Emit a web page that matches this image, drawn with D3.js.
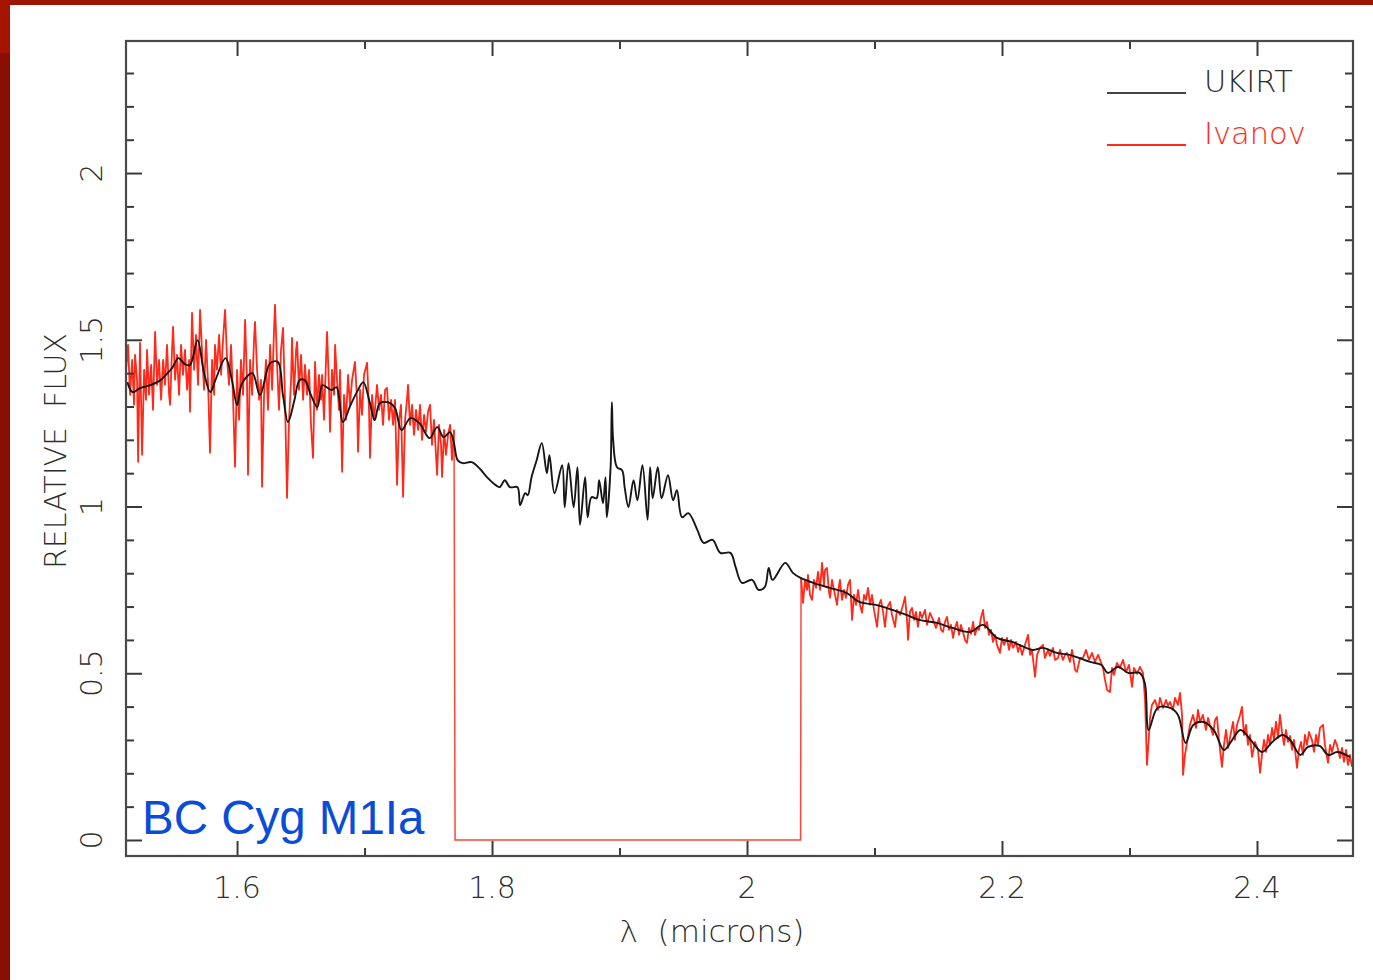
<!DOCTYPE html>
<html>
<head>
<meta charset="utf-8">
<script src="https://cdn.jsdelivr.net/npm/d3@7"></script>
<style>
  body { margin: 0; background: #fff; }
  svg { display: block; }
  .axis-text { font-family: "DejaVu Sans", sans-serif; }
</style>
</head>
<body>
<svg id="chart" width="1373" height="980"></svg>
<script>
// UKIRT spectrum (black), wavelength in microns / relative flux
const ukirtWave = [1.514,1.518,1.524,1.532,1.540,1.544,1.549,1.554,1.559,1.563,
  1.569,1.574,1.579,1.583,1.591,1.596,1.600,1.604,1.612,1.618,
  1.626,1.632,1.636,1.640,1.645,1.649,1.653,1.658,1.663,1.667,
  1.674,1.678,1.683,1.689,1.694,1.699,1.704,1.708,1.712,1.720,
  1.724,1.729,1.736,1.743,1.751,1.757,1.762,1.767,1.770,1.773,
  1.777,1.784,1.790,1.796,1.801,1.806,1.810,1.814,1.820,1.822,
  1.826,1.828,1.831,1.835,1.839,1.843,1.845,1.849,1.855,1.857,
  1.860,1.864,1.867,1.869,1.873,1.875,1.878,1.882,1.884,1.887,
  1.889,1.890,1.893,1.894,1.895,1.898,1.902,1.904,1.907,1.911,
  1.914,1.918,1.922,1.924,1.926,1.930,1.933,1.938,1.942,1.945,
  1.949,1.954,1.961,1.966,1.973,1.979,1.987,1.991,1.996,2.004,
  2.009,2.014,2.017,2.020,2.030,2.036,2.042,2.052,2.065,2.078,
  2.088,2.101,2.114,2.125,2.135,2.149,2.161,2.175,2.185,2.196,
  2.208,2.224,2.232,2.243,2.253,2.269,2.278,2.283,2.291,2.299,
  2.308,2.312,2.315,2.322,2.332,2.338,2.344,2.350,2.358,2.366,
  2.374,2.379,2.387,2.395,2.404,2.412,2.420,2.426,2.434,2.440,
  2.449,2.456,2.463,2.473];
const ukirtFlux = [1.373,1.343,1.355,1.364,1.379,1.394,1.415,1.445,1.427,1.424,
  1.499,1.403,1.343,1.379,1.445,1.379,1.304,1.370,1.400,1.334,
  1.430,1.433,1.334,1.253,1.319,1.379,1.379,1.334,1.298,1.364,
  1.349,1.358,1.253,1.304,1.343,1.373,1.313,1.259,1.310,1.310,
  1.295,1.229,1.265,1.250,1.205,1.238,1.208,1.223,1.193,1.139,
  1.130,1.133,1.115,1.088,1.070,1.058,1.079,1.058,1.058,1.004,
  1.040,1.034,1.088,1.139,1.190,1.100,1.154,1.040,1.124,0.998,
  1.130,0.998,1.118,0.945,1.088,0.968,1.028,1.025,1.079,1.010,
  1.088,0.968,1.118,1.313,1.199,1.118,1.109,1.058,0.998,1.079,
  1.019,1.124,0.960,1.118,1.025,1.118,1.025,1.094,1.019,1.049,
  0.968,0.980,0.930,0.891,0.900,0.861,0.861,0.819,0.771,0.780,
  0.750,0.759,0.816,0.780,0.831,0.801,0.786,0.771,0.756,0.741,
  0.714,0.705,0.690,0.675,0.660,0.651,0.636,0.624,0.645,0.606,
  0.594,0.570,0.576,0.561,0.555,0.534,0.525,0.501,0.519,0.501,
  0.501,0.471,0.330,0.396,0.396,0.375,0.291,0.345,0.354,0.330,
  0.270,0.291,0.330,0.300,0.264,0.294,0.315,0.300,0.255,0.279,
  0.282,0.255,0.264,0.249];

// Ivanov spectrum (red): H band part
const ivanovHWave = [1.5129,1.5145,1.5161,1.5177,1.5192,1.5200,1.5216,1.5224,1.5239,1.5255,
  1.5271,1.5286,1.5294,1.5310,1.5326,1.5341,1.5357,1.5373,1.5388,1.5404,
  1.5420,1.5435,1.5451,1.5467,1.5475,1.5490,1.5498,1.5514,1.5529,1.5545,
  1.5561,1.5576,1.5592,1.5608,1.5624,1.5631,1.5647,1.5663,1.5678,1.5694,
  1.5710,1.5725,1.5741,1.5757,1.5773,1.5788,1.5804,1.5820,1.5827,1.5843,
  1.5859,1.5875,1.5890,1.5906,1.5922,1.5937,1.5953,1.5969,1.5984,1.6000,
  1.6016,1.6031,1.6047,1.6063,1.6078,1.6086,1.6102,1.6118,1.6133,1.6141,
  1.6157,1.6173,1.6188,1.6196,1.6212,1.6227,1.6243,1.6259,1.6275,1.6290,
  1.6298,1.6314,1.6329,1.6345,1.6361,1.6376,1.6392,1.6408,1.6424,1.6431,
  1.6447,1.6463,1.6471,1.6486,1.6502,1.6518,1.6533,1.6549,1.6565,1.6580,
  1.6596,1.6612,1.6627,1.6643,1.6659,1.6667,1.6682,1.6698,1.6706,1.6722,
  1.6729,1.6745,1.6761,1.6769,1.6784,1.6800,1.6808,1.6824,1.6839,1.6855,
  1.6871,1.6886,1.6902,1.6925,1.6941,1.6949,1.6965,1.6980,1.6996,1.7020,
  1.7035,1.7043,1.7059,1.7075,1.7098,1.7114,1.7129,1.7145,1.7161,1.7176,
  1.7192,1.7208,1.7224,1.7239,1.7255,1.7271,1.7286,1.7302,1.7318,1.7333,
  1.7341,1.7357,1.7373,1.7388,1.7404,1.7420,1.7435,1.7451,1.7467,1.7482,
  1.7498,1.7514,1.7529,1.7545,1.7569,1.7584,1.7600,1.7608,1.7624,1.7639,
  1.7655,1.7671,1.7686,1.7702];
const ivanovHFlux = [1.404,1.485,1.335,1.440,1.305,1.455,1.380,1.134,1.491,1.155,
  1.410,1.320,1.470,1.335,1.425,1.290,1.524,1.365,1.440,1.320,
  1.440,1.365,1.485,1.335,1.305,1.470,1.539,1.380,1.455,1.335,
  1.485,1.395,1.470,1.350,1.440,1.284,1.581,1.410,1.515,1.365,
  1.590,1.470,1.350,1.500,1.365,1.161,1.440,1.335,1.485,1.410,
  1.515,1.395,1.500,1.590,1.440,1.365,1.485,1.320,1.119,1.410,
  1.260,1.440,1.335,1.560,1.380,1.095,1.440,1.335,1.500,1.554,
  1.410,1.320,1.380,1.059,1.335,1.440,1.290,1.485,1.350,1.530,
  1.605,1.425,1.290,1.470,1.536,1.320,1.026,1.260,1.380,1.506,
  1.335,1.470,1.494,1.350,1.455,1.320,1.425,1.335,1.410,1.245,
  1.146,1.434,1.290,1.395,1.320,1.395,1.260,1.440,1.524,1.350,
  1.224,1.410,1.335,1.485,1.380,1.290,1.410,1.104,1.335,1.260,
  1.395,1.305,1.380,1.434,1.320,1.164,1.350,1.275,1.395,1.431,
  1.290,1.146,1.335,1.260,1.365,1.290,1.335,1.245,1.350,1.356,
  1.260,1.320,1.245,1.320,1.065,1.260,1.305,1.029,1.260,1.320,
  1.365,1.245,1.305,1.215,1.290,1.230,1.305,1.200,1.275,1.224,
  1.284,1.305,1.185,1.260,1.095,1.245,1.185,1.089,1.230,1.155,
  1.215,1.245,1.140,1.230];

// Ivanov: no data between the bands (plotted as zero flux)
const ivanovGapWave = [1.7710, 2.0420];
const ivanovGapFlux = [0, 0];

// Ivanov: K band part
const ivanovKWave = [2.0424,2.0439,2.0455,2.0471,2.0478,2.0494,2.0510,2.0525,2.0541,2.0557,
  2.0573,2.0588,2.0604,2.0612,2.0627,2.0643,2.0651,2.0667,2.0682,2.0706,
  2.0722,2.0729,2.0745,2.0761,2.0776,2.0792,2.0808,2.0824,2.0839,2.0855,
  2.0871,2.0886,2.0902,2.0918,2.0933,2.0949,2.0965,2.0980,2.0996,2.1020,
  2.1035,2.1051,2.1067,2.1082,2.1098,2.1122,2.1137,2.1161,2.1176,2.1200,
  2.1224,2.1239,2.1255,2.1263,2.1278,2.1294,2.1310,2.1325,2.1341,2.1357,
  2.1373,2.1396,2.1412,2.1435,2.1459,2.1482,2.1506,2.1522,2.1537,2.1553,
  2.1569,2.1584,2.1600,2.1616,2.1631,2.1647,2.1663,2.1678,2.1694,2.1710,
  2.1725,2.1741,2.1757,2.1773,2.1788,2.1804,2.1820,2.1835,2.1851,2.1867,
  2.1882,2.1898,2.1914,2.1929,2.1945,2.1961,2.1984,2.2000,2.2016,2.2039,
  2.2055,2.2071,2.2086,2.2110,2.2126,2.2141,2.2157,2.2180,2.2204,2.2220,
  2.2235,2.2259,2.2275,2.2298,2.2322,2.2337,2.2361,2.2376,2.2400,2.2416,
  2.2439,2.2455,2.2478,2.2494,2.2510,2.2533,2.2549,2.2573,2.2588,2.2612,
  2.2635,2.2659,2.2682,2.2706,2.2729,2.2753,2.2769,2.2792,2.2808,2.2824,
  2.2847,2.2863,2.2878,2.2902,2.2925,2.2949,2.2973,2.2996,2.3020,2.3035,
  2.3059,2.3082,2.3106,2.3122,2.3137,2.3153,2.3161,2.3176,2.3200,2.3224,
  2.3239,2.3263,2.3286,2.3302,2.3318,2.3341,2.3357,2.3380,2.3396,2.3412,
  2.3420,2.3435,2.3451,2.3474,2.3498,2.3522,2.3537,2.3553,2.3576,2.3600,
  2.3616,2.3631,2.3655,2.3671,2.3686,2.3702,2.3725,2.3741,2.3757,2.3773,
  2.3788,2.3812,2.3827,2.3843,2.3867,2.3882,2.3898,2.3914,2.3929,2.3945,
  2.3961,2.3984,2.4008,2.4024,2.4039,2.4055,2.4071,2.4086,2.4102,2.4118,
  2.4133,2.4149,2.4165,2.4180,2.4196,2.4212,2.4227,2.4243,2.4259,2.4275,
  2.4290,2.4314,2.4329,2.4345,2.4361,2.4376,2.4392,2.4408,2.4431,2.4447,
  2.4463,2.4478,2.4494,2.4518,2.4533,2.4557,2.4573,2.4588,2.4612,2.4627,
  2.4651,2.4667,2.4682,2.4698,2.4714,2.4729,2.4745];
const ivanovKFlux = [0.786,0.711,0.780,0.750,0.795,0.735,0.720,0.780,0.756,0.804,
  0.750,0.831,0.765,0.810,0.816,0.744,0.726,0.780,0.750,0.705,
  0.765,0.780,0.720,0.750,0.726,0.765,0.780,0.660,0.735,0.705,
  0.750,0.705,0.681,0.735,0.720,0.756,0.705,0.735,0.690,0.639,
  0.705,0.720,0.684,0.639,0.696,0.714,0.675,0.639,0.690,0.675,
  0.705,0.729,0.660,0.600,0.684,0.696,0.660,0.684,0.639,0.684,
  0.666,0.690,0.645,0.681,0.660,0.636,0.666,0.630,0.624,0.654,
  0.669,0.630,0.645,0.606,0.636,0.654,0.615,0.645,0.624,0.600,
  0.591,0.636,0.618,0.654,0.615,0.636,0.630,0.666,0.690,0.636,
  0.654,0.615,0.630,0.594,0.615,0.585,0.561,0.606,0.585,0.606,
  0.570,0.600,0.576,0.594,0.564,0.585,0.555,0.585,0.615,0.555,
  0.570,0.489,0.555,0.576,0.585,0.546,0.570,0.552,0.576,0.540,
  0.546,0.570,0.540,0.555,0.561,0.534,0.570,0.510,0.504,0.546,
  0.546,0.570,0.540,0.561,0.534,0.555,0.540,0.516,0.480,0.450,
  0.444,0.516,0.495,0.531,0.516,0.540,0.504,0.525,0.459,0.516,
  0.498,0.519,0.501,0.420,0.225,0.315,0.366,0.405,0.420,0.390,
  0.426,0.396,0.420,0.402,0.414,0.390,0.426,0.405,0.441,0.375,
  0.195,0.255,0.291,0.345,0.375,0.336,0.390,0.354,0.375,0.330,
  0.366,0.345,0.315,0.360,0.369,0.300,0.219,0.285,0.330,0.276,
  0.306,0.354,0.300,0.345,0.375,0.399,0.315,0.345,0.285,0.315,
  0.249,0.294,0.270,0.201,0.255,0.300,0.264,0.315,0.285,0.336,
  0.300,0.354,0.306,0.375,0.324,0.285,0.330,0.294,0.312,0.270,
  0.300,0.216,0.270,0.294,0.255,0.315,0.285,0.324,0.300,0.264,
  0.315,0.285,0.336,0.345,0.285,0.231,0.285,0.264,0.300,0.285,
  0.246,0.276,0.234,0.270,0.225,0.255,0.219];

// axis ticks
const xMajor = [1.6, 1.8, 2.0, 2.2, 2.4];
const xMinor = [1.7, 1.9, 2.1, 2.3];
const yMajor = [0, 0.5, 1, 1.5, 2];
const yMinor = [0.1,0.2,0.3,0.4,0.6,0.7,0.8,0.9,1.1,1.2,1.3,1.4,1.6,1.7,1.8,1.9,2.1,2.2,2.3];
const seriesNames = ['UKIRT', 'Ivanov'];
const starLabel = 'BC Cyg M1Ia';

const W = 1373, H = 980;
const plot = { left: 126, right: 1353, top: 41, bottom: 856 };
const axisColor = '#3a3a3a';
const textColor = '#2e2e2e';
const redColor = '#ff2a1a';
const blackColor = '#161616';

const x = d3.scaleLinear().domain([1.5129, 2.4753]).range([plot.left, plot.right]);
const y = d3.scaleLinear().domain([-0.048, 2.396]).range([plot.bottom, plot.top]);

const svg = d3.select('#chart');

// slide frame
svg.append('rect').attr('x', 0).attr('y', 0).attr('width', W).attr('height', 5).attr('fill', '#a01300');
svg.append('rect').attr('x', 0).attr('y', 0).attr('width', 10).attr('height', 53).attr('fill', '#a51400');
svg.append('rect').attr('x', 0).attr('y', 53).attr('width', 10).attr('height', H - 53).attr('fill', '#8c0e00');

svg.append('clipPath').attr('id', 'clip')
  .append('rect')
  .attr('x', plot.left).attr('y', plot.top)
  .attr('width', plot.right - plot.left).attr('height', plot.bottom - plot.top);

const line = d3.line().x(d => x(d[0])).y(d => y(d[1]));
const smoothLine = d3.line().x(d => x(d[0])).y(d => y(d[1])).curve(d3.curveCatmullRom.alpha(0.5));

const hPts = ivanovHWave.map((w, i) => [w, ivanovHFlux[i]]);
const gapPts = ivanovGapWave.map((w, i) => [w, ivanovGapFlux[i]]);
const kPts = ivanovKWave.map((w, i) => [w, ivanovKFlux[i]]);
const ukirtPts = ukirtWave.map((w, i) => [w, ukirtFlux[i]]);

const plotG = svg.append('g').attr('clip-path', 'url(#clip)');
// gap segment (thin, lighter red)
plotG.append('path')
  .datum([hPts[hPts.length - 1], ...gapPts, kPts[0]])
  .attr('d', line)
  .attr('fill', 'none')
  .attr('stroke', '#ff4636')
  .attr('stroke-width', 1.5);
[hPts, kPts].forEach(pts => {
  plotG.append('path')
    .datum(pts)
    .attr('d', line)
    .attr('fill', 'none')
    .attr('stroke', redColor)
    .attr('stroke-width', 1.8)
    .attr('stroke-linejoin', 'round');
});
plotG.append('path')
  .datum(ukirtPts)
  .attr('d', smoothLine)
  .attr('fill', 'none')
  .attr('stroke', blackColor)
  .attr('stroke-width', 1.9)
  .attr('stroke-linejoin', 'round');

// axes with inward ticks
function drawAxis(gen, tr) {
  const g = svg.append('g').attr('transform', tr).call(gen);
  g.select('.domain').remove();
  g.selectAll('line').attr('stroke', axisColor).attr('stroke-width', 2);
  return g;
}
drawAxis(d3.axisBottom(x).tickValues(xMajor).tickSize(-15).tickFormat(''), `translate(0,${plot.bottom})`);
drawAxis(d3.axisBottom(x).tickValues(xMinor).tickSize(-8).tickFormat(''), `translate(0,${plot.bottom})`);
drawAxis(d3.axisTop(x).tickValues(xMajor).tickSize(-15).tickFormat(''), `translate(0,${plot.top})`);
drawAxis(d3.axisTop(x).tickValues(xMinor).tickSize(-8).tickFormat(''), `translate(0,${plot.top})`);
drawAxis(d3.axisLeft(y).tickValues(yMajor).tickSize(-16).tickFormat(''), `translate(${plot.left},0)`);
drawAxis(d3.axisLeft(y).tickValues(yMinor).tickSize(-8).tickFormat(''), `translate(${plot.left},0)`);
drawAxis(d3.axisRight(y).tickValues(yMajor).tickSize(-16).tickFormat(''), `translate(${plot.right},0)`);
drawAxis(d3.axisRight(y).tickValues(yMinor).tickSize(-8).tickFormat(''), `translate(${plot.right},0)`);

svg.append('rect')
  .attr('x', plot.left).attr('y', plot.top)
  .attr('width', plot.right - plot.left).attr('height', plot.bottom - plot.top)
  .attr('fill', 'none')
  .attr('stroke', '#4a4a4a')
  .attr('stroke-width', 2.2);

const fmt = d3.format('~g');

svg.append('g').selectAll('text')
  .data(xMajor)
  .join('text')
  .attr('class', 'axis-text')
  .attr('x', d => x(d))
  .attr('y', 898)
  .attr('text-anchor', 'middle')
  .attr('font-size', 30)
  .attr('font-weight', 200)
  .attr('fill', textColor)
  .text(d => fmt(d));

svg.append('g').selectAll('text')
  .data(yMajor)
  .join('text')
  .attr('class', 'axis-text')
  .attr('transform', d => `translate(102,${y(d)}) rotate(-90)`)
  .attr('text-anchor', 'middle')
  .attr('font-size', 30)
  .attr('font-weight', 200)
  .attr('fill', textColor)
  .text(d => fmt(d));

svg.append('text')
  .attr('class', 'axis-text')
  .attr('x', 712)
  .attr('y', 942)
  .attr('text-anchor', 'middle')
  .attr('font-size', 31)
  .attr('font-weight', 200)
  .attr('fill', textColor)
  .style('white-space', 'pre')
  .text('λ  (microns)');

svg.append('text')
  .attr('class', 'axis-text')
  .attr('transform', 'translate(66,451) rotate(-90)')
  .attr('text-anchor', 'middle')
  .attr('font-size', 30)
  .attr('font-weight', 200)
  .attr('fill', textColor)
  .style('white-space', 'pre')
  .text('RELATIVE  FLUX');

// legend
const legend = svg.append('g').selectAll('g')
  .data(seriesNames)
  .join('g')
  .attr('transform', (d, i) => `translate(1107,${93 + i * 52})`);
legend.append('line')
  .attr('x1', 0).attr('x2', 79).attr('y1', 0).attr('y2', 0)
  .attr('stroke', (d, i) => i === 0 ? '#444' : redColor)
  .attr('stroke-width', 2);
legend.append('text')
  .attr('class', 'axis-text')
  .attr('x', 97)
  .attr('y', -1)
  .attr('font-size', 30.5)
  .attr('font-weight', 200)
  .attr('fill', (d, i) => i === 0 ? textColor : redColor)
  .text(d => d);

svg.append('text')
  .attr('x', 142)
  .attr('y', 834)
  .style('font-family', '"Liberation Sans", Arial, sans-serif')
  .attr('font-size', 47.5)
  .attr('fill', '#0a4cd8')
  .text(starLabel);
</script>
</body>
</html>
